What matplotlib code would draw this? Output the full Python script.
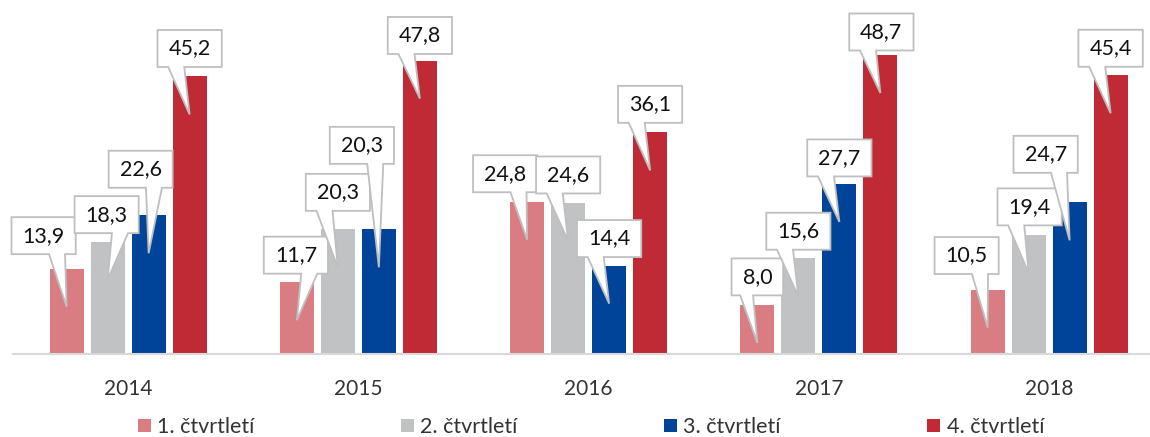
import numpy as np
import matplotlib
matplotlib.use("Agg")
import matplotlib.pyplot as plt
import matplotlib.transforms as mtransforms
from matplotlib.patches import Polygon, Patch

plt.rcParams['font.family'] = ['Lato', 'DejaVu Sans']

years = ['2014', '2015', '2016', '2017', '2018']
series_names = ['1. čtvrtletí', '2. čtvrtletí', '3. čtvrtletí', '4. čtvrtletí']
q1 = [13.9, 11.7, 24.8, 8.0, 10.5]
q2 = [18.3, 20.3, 24.6, 15.6, 19.4]
q3 = [22.6, 20.3, 14.4, 27.7, 24.7]
q4 = [45.2, 47.8, 36.1, 48.7, 45.4]
colors = ['#D97D83', '#C1C2C4', '#00449A', '#BF2A34']

# callout box centre relative to the pointer tip, in pixels (dx, dy)
callout_dx = [[-23, -1, -22, 0, -21],
              [-1, 0, 0, 0, 1],
              [-8, -17, 0, 0, -24],
              [0, 0, 0, 1, 0]]
callout_dy = [[71, 65, 66, 66, 72],
              [65, 75, 66, 65, 66],
              [84, 122, 65, 64, 86],
              [66, 63, 66, 61, 65]]

W, H = 1150, 437
fig = plt.figure(figsize=(W / 100, H / 100), dpi=100)
px_unit = 6.14
ymax = 55
ax = fig.add_axes([13 / W, 83 / H, 5 * 230.25 / W, ymax * px_unit / H])

x = np.arange(len(years))
step = 41 / 230.25
width = 34 / 230.25
data = [q1, q2, q3, q4]

for i, vals in enumerate(data):
    xs = x + (i - 1.5) * step
    ax.bar(xs, vals, width=width, color=colors[i], label=series_names[i])

ax.set_xlim(-0.5, 4.5)
ax.set_ylim(0, ymax)
ax.set_yticks([])
ax.set_xticks(x)
ax.set_xticklabels(years, fontsize=15, color='#333333')
ax.tick_params(axis='x', length=0, pad=18)
for s in ['top', 'right', 'left']:
    ax.spines[s].set_visible(False)
ax.spines['bottom'].set_color('#D9D9D9')
ax.spines['bottom'].set_linewidth(1.5)

renderer = fig.canvas.get_renderer()
box_h = 37
for i, vals in enumerate(data):
    for j, v in enumerate(vals):
        xc = x[j] + (i - 1.5) * step
        lab = f'{v:.1f}'.replace('.', ',')
        # pixel offsets around the tip, placed 38 px below the bar top
        trans = mtransforms.Affine2D().translate(0, -38) + \
            mtransforms.ScaledTranslation(xc, v, ax.transData)
        dx, dy = callout_dx[i][j], callout_dy[i][j]
        t = ax.text(dx, dy, lab, transform=trans, ha='center', va='center',
                    fontsize=15.5, color='#111111', zorder=6)
        tw = t.get_window_extent(renderer).width
        bw = tw + 22
        L, R = dx - bw / 2, dx + bw / 2
        B, T = dy - box_h / 2, dy + box_h / 2
        if dx < 0:
            b0, b1 = L + bw * 7 / 12, L + bw * 10 / 12
        else:
            b0, b1 = L + bw * 2 / 12, L + bw * 5 / 12
        pts = [(L, T), (R, T), (R, B), (b1, B), (0, 0), (b0, B), (L, B)]
        poly = Polygon(pts, closed=True, transform=trans, facecolor='white',
                       edgecolor='#BFBFBF', linewidth=1.3, zorder=5,
                       clip_on=False, joinstyle='miter')
        ax.add_patch(poly)

handles = [Patch(facecolor=c, edgecolor='none') for c in colors]
fig.legend(handles, series_names, loc='center', ncol=4,
           bbox_to_anchor=(591 / W, 1 - 427 / H), frameon=False,
           fontsize=15.5, labelcolor='#333333', handlelength=0.6,
           handleheight=0.6, handletextpad=0.3, columnspacing=6.8)

fig.savefig('out.png', dpi=100)
